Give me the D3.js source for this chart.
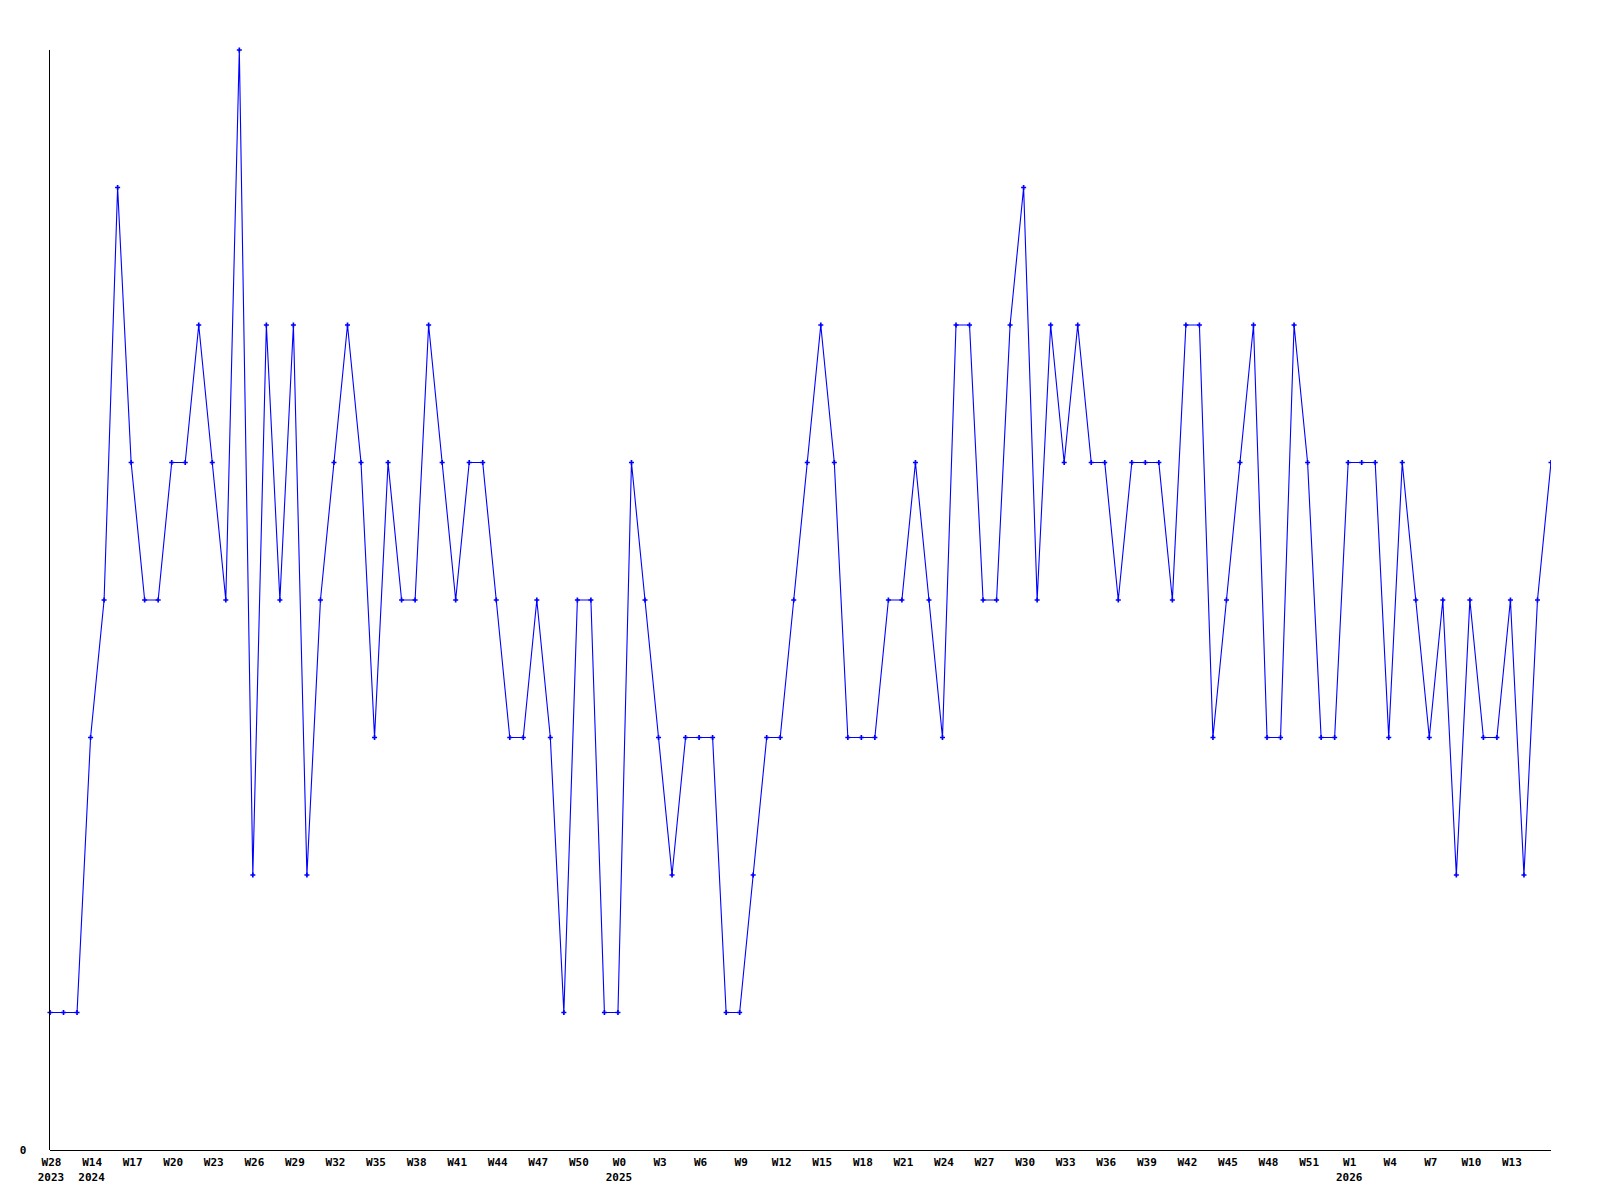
<!DOCTYPE html>
<html>
<head>
<meta charset="utf-8">
<script src="https://cdn.jsdelivr.net/npm/d3@7"></script>
<style>
  html, body { margin: 0; padding: 0; background: #fff; }
  svg text { font-family: "DejaVu Sans Mono", "Liberation Mono", monospace; font-weight: bold; font-size: 11px; fill: #000; }
</style>
</head>
<body>
<svg id="chart" width="1600" height="1200"></svg>
<script>
// Weekly values (112 consecutive weeks, left to right)
const values = [
  1, 1, 1, 3, 4, 7, 5, 4, 4, 5,
  5, 6, 5, 4, 8, 2, 6, 4, 6, 2,
  4, 5, 6, 5, 3, 5, 4, 4, 6, 5,
  4, 5, 5, 4, 3, 3, 4, 3, 1, 4,
  4, 1, 1, 5, 4, 3, 2, 3, 3, 3,
  1, 1, 2, 3, 3, 4, 5, 6, 5, 3,
  3, 3, 4, 4, 5, 4, 3, 6, 6, 4,
  4, 6, 7, 4, 6, 5, 6, 5, 5, 4,
  5, 5, 5, 4, 6, 6, 3, 4, 5, 6,
  3, 3, 6, 5, 3, 3, 5, 5, 5, 3,
  5, 4, 3, 4, 2, 4, 3, 3, 4, 2,
  4, 5
];
// Week tick labels (every third point)
const weekLabels = [
  "W28", "W14", "W17", "W20", "W23", "W26", "W29", "W32", "W35", "W38",
  "W41", "W44", "W47", "W50", "W0", "W3", "W6", "W9", "W12", "W15",
  "W18", "W21", "W24", "W27", "W30", "W33", "W36", "W39", "W42", "W45",
  "W48", "W51", "W1", "W4", "W7", "W10", "W13"
];
// Year labels under the first tick of each year
const yearLabels = ["2023", "2024", "2025", "2026"];
const yearTickIndex = [0, 1, 14, 32];
const yTickValues = [0];

const svg = d3.select("#chart");
const mLeft = 50, mRight = 1551, mTop = 50, mBottom = 1150;

const idx = values.map((d, i) => i);
const x = d3.scalePoint().domain(idx).range([mLeft, mRight]);
const y = d3.scaleLinear().domain([0, 8]).range([mBottom, mTop]);

const tickIdx = weekLabels.map((d, i) => i * 3);

// clip
svg.append("defs").append("clipPath").attr("id", "plot")
  .append("rect").attr("x", 0).attr("y", 0).attr("width", mRight).attr("height", 1200);

// line
const line = d3.line().x((d, i) => x(i)).y(d => y(d));
const g = svg.append("g").attr("clip-path", "url(#plot)");
g.append("path").datum(values)
  .attr("d", line)
  .attr("fill", "none")
  .attr("stroke", "#0000ff")
  .attr("stroke-width", 1.1);

g.selectAll("path.marker").data(values).enter().append("path")
  .attr("class", "marker")
  .attr("d", d3.symbol().type(d3.symbolCross).size(14))
  .attr("transform", (d, i) => `translate(${x(i)},${y(d)})`)
  .attr("fill", "#0000ff");

// x axis
const xAxis = d3.axisBottom(x)
  .tickValues(tickIdx)
  .tickSize(0)
  .tickPadding(0)
  .tickFormat(i => weekLabels[i / 3]);
const xg = svg.append("g").attr("transform", `translate(0,${mBottom})`).call(xAxis);
xg.select(".domain").attr("stroke", "#000").attr("stroke-width", 1)
  .attr("d", `M${mLeft},0.5H${mRight}`);
xg.selectAll(".tick text").attr("dy", null).attr("y", 16).attr("x", 1);

// year labels
xg.selectAll("text.year").data(yearLabels).enter().append("text")
  .attr("class", "year")
  .attr("x", (d, k) => x(tickIdx[yearTickIndex[k]]) + 1)
  .attr("y", 31)
  .attr("text-anchor", "middle")
  .text(d => d);

// y axis
const yAxis = d3.axisLeft(y).tickValues(yTickValues).tickSize(0).tickPadding(0)
  .tickFormat(d3.format("d"));
const yg = svg.append("g").attr("transform", `translate(${mLeft},0)`).call(yAxis);
yg.select(".domain").attr("stroke", "#000").attr("stroke-width", 1)
  .attr("d", `M-0.5,${mTop}V${mBottom}`);
yg.selectAll(".tick text").attr("x", -27).attr("dy", "0.35em").attr("text-anchor", "middle");
</script>
</body>
</html>
